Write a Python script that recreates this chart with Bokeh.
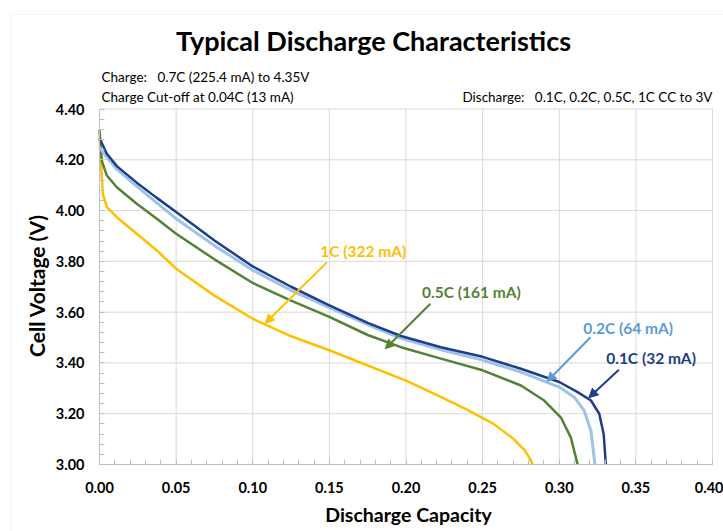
import math
from bokeh.plotting import figure
from bokeh.models import (Range1d, FixedTicker, NumeralTickFormatter, Label,
                          Arrow, NormalHead, ColumnDataSource, BoxAnnotation)
from bokeh.embed import file_html
from bokeh.resources import INLINE

# ---- data ----
cap_01 = [0.0, 0.0048, 0.0113, 0.0243, 0.0374, 0.05, 0.075, 0.10, 0.125, 0.15,
          0.175, 0.1967, 0.2228, 0.25, 0.275, 0.30, 0.312, 0.3207, 0.3261,
          0.329, 0.3304]
volt_01 = [4.285, 4.224, 4.175, 4.11, 4.05, 3.994, 3.882, 3.78, 3.70, 3.627,
           3.558, 3.506, 3.462, 3.424, 3.377, 3.325, 3.285, 3.252, 3.20,
           3.119, 3.00]

cap_02 = [0.0, 0.0048, 0.0113, 0.0243, 0.0374, 0.05, 0.075, 0.10, 0.125, 0.15,
          0.175, 0.1967, 0.2228, 0.25, 0.275, 0.30, 0.3098, 0.3163, 0.3207,
          0.3233]
volt_02 = [4.25, 4.21, 4.163, 4.095, 4.03, 3.968, 3.862, 3.765, 3.686, 3.618,
           3.551, 3.497, 3.452, 3.411, 3.364, 3.305, 3.265, 3.212, 3.132,
           3.00]

cap_05 = [0.0, 0.0015, 0.0048, 0.0113, 0.0243, 0.0374, 0.05, 0.075, 0.10, 0.125,
          0.15, 0.175, 0.1967, 0.2228, 0.25, 0.275, 0.2902, 0.3011, 0.3076,
          0.312]
volt_05 = [4.317, 4.197, 4.138, 4.092, 4.027, 3.968, 3.909, 3.808, 3.715, 3.645,
           3.581, 3.51, 3.462, 3.417, 3.371, 3.311, 3.252, 3.185, 3.106,
           3.00]

cap_1 = [0.0, 0.0013, 0.0022, 0.0048, 0.0113, 0.0243, 0.0374, 0.05, 0.075, 0.10,
         0.125, 0.15, 0.175, 0.20, 0.2224, 0.2398, 0.2572, 0.2703, 0.2772,
         0.2812, 0.2827]
volt_1 = [4.285, 4.158, 4.066, 4.014, 3.974, 3.909, 3.843, 3.771, 3.665, 3.574,
          3.505, 3.45, 3.39, 3.33, 3.267, 3.216, 3.16, 3.10, 3.058,
          3.02, 3.00]

x_ticks = [0.0, 0.05, 0.10, 0.15, 0.20, 0.25, 0.30, 0.35, 0.40]
y_ticks = [3.0, 3.2, 3.4, 3.6, 3.8, 4.0, 4.2, 4.4]
x_minor = [round(i * 0.01, 2) for i in range(41)]
y_minor = [round(3.0 + i * 0.04, 2) for i in range(36)]

series_names = ["0.1C (32 mA)", "0.2C (64 mA)", "0.5C (161 mA)", "1C (322 mA)"]
line_colors = ["#203C8C", "#9DC3E6", "#548235", "#FFC000"]
label_colors = ["#203C8C", "#5B9BD5", "#548235", "#FFC000"]

title_text = "Typical Discharge Characteristics"
x_title = "Discharge Capacity"
y_title = "Cell Voltage (V)"
note_charge_a = "Charge:"
note_charge_b = "0.7C (225.4 mA) to 4.35V"
note_cutoff = "Charge Cut-off at 0.04C (13 mA)"
note_discharge_a = "Discharge:"
note_discharge_b = "0.1C, 0.2C, 0.5C, 1C CC to 3V"

FONT = "Lato"
X_MIN, X_MAX, Y_MIN, Y_MAX = 0.0, 0.4, 3.0, 4.4

# The frame fills the whole canvas; axes are pinned at x=0 / y=3.0 so that
# titles and notes (drawn as labels) are not clipped.
W, H = 723, 531
LEFT_PX, BOTTOM_PX = 99, 464          # pixel position of x=0 and y=3.0
PX_PER_X = (712 - LEFT_PX) / (X_MAX - X_MIN)
PX_PER_Y = (BOTTOM_PX - 108.5) / (Y_MAX - Y_MIN)


def dx(px):
    return X_MIN + (px - LEFT_PX) / PX_PER_X


def dy(py):
    return Y_MIN + (BOTTOM_PX - py) / PX_PER_Y


p = figure(width=W, height=H, output_backend="svg", toolbar_location=None,
           x_range=Range1d(dx(0), dx(W)), y_range=Range1d(dy(H), dy(0)),
           min_border_left=0, min_border_right=0, min_border_top=0,
           min_border_bottom=0)
p.outline_line_color = None
p.background_fill_color = "white"
p.border_fill_color = "white"
p.grid.visible = False

p.xaxis.ticker = FixedTicker(ticks=x_ticks, minor_ticks=x_minor)
p.yaxis.ticker = FixedTicker(ticks=y_ticks, minor_ticks=y_minor)
p.xaxis.formatter = NumeralTickFormatter(format="0.00")
p.yaxis.formatter = NumeralTickFormatter(format="0.00")
p.xaxis.bounds = (X_MIN, X_MAX)
p.yaxis.bounds = (Y_MIN, Y_MAX)
p.xaxis.fixed_location = Y_MIN
p.yaxis.fixed_location = X_MIN
for ax in (p.xaxis, p.yaxis):
    ax.axis_line_color = "#BFBFBF"
    ax.major_tick_line_color = "#BFBFBF"
    ax.minor_tick_line_color = "#BFBFBF"
    ax.major_tick_in = 5
    ax.major_tick_out = 0
    ax.minor_tick_in = 5
    ax.minor_tick_out = 0
    ax.major_label_text_font = FONT
    ax.major_label_text_font_style = "bold"
    ax.major_label_text_font_size = "14.5px"
    ax.major_label_text_color = "black"
p.xaxis.major_label_standoff = 17
p.yaxis.major_label_standoff = 15

# grid lines, from the tick arrays, limited to the plot area
p.segment(x0=x_ticks, y0=[Y_MIN] * len(x_ticks), x1=x_ticks, y1=[Y_MAX] * len(x_ticks),
          line_color="#D9D9D9", line_width=1)
p.segment(x0=[X_MIN] * len(y_ticks), y0=y_ticks, x1=[X_MAX] * len(y_ticks), y1=y_ticks,
          line_color="#D9D9D9", line_width=1)

caps = [cap_01, cap_02, cap_05, cap_1]
volts = [volt_01, volt_02, volt_05, volt_1]
widths = [2.5, 3, 2.5, 2.5]
for i in [3, 2, 1, 0]:
    src = ColumnDataSource(dict(x=caps[i], y=volts[i]))
    p.line("x", "y", source=src, line_color=line_colors[i], line_width=widths[i])

# chart-area border (top and left edges, the others fall outside the window)
p.add_layout(BoxAnnotation(left=dx(10), top=dy(14), right=dx(W + 20), bottom=dy(H + 20),
                           fill_color=None, line_color="#D9D9D9", line_width=1))

# ---- callouts ----
ann_text_pos = [(0.3599, 3.421), (0.3449, 3.539), (0.2427, 3.681), (0.1721, 3.840)]
ann_arrows = [((0.3389, 3.373), (0.3193, 3.263)),
              ((0.3204, 3.501), (0.2921, 3.327)),
              ((0.2159, 3.633), (0.1865, 3.456)),
              ((0.1484, 3.796), (0.1081, 3.556))]
for i in range(4):
    tx, ty = ann_text_pos[i]
    p.add_layout(Label(x=tx, y=ty, text=series_names[i], text_align="center",
                       text_baseline="middle", text_font=FONT, text_font_style="bold",
                       text_font_size="15.5px", text_color=label_colors[i]))
    (x0, y0), (x1, y1) = ann_arrows[i]
    c = label_colors[i]
    p.add_layout(Arrow(x_start=x0, y_start=y0, x_end=x1, y_end=y1,
                       line_color=c, line_width=2,
                       end=NormalHead(size=9, fill_color=c, line_color=c)))


def text(x, y, s, size, align="left", bold=False, angle=0.0):
    p.add_layout(Label(x=x, y=y, text=s, text_align=align, text_baseline="middle",
                       text_font=FONT, text_font_style="bold" if bold else "normal",
                       text_font_size=size, text_color="black", angle=angle))


# ---- titles and notes ----
text(dx(373), dy(40), title_text, "27px", align="center", bold=True)
text(dx(101), dy(76.5), note_charge_a, "13.5px")
text(dx(157), dy(76.5), note_charge_b, "13.5px")
text(dx(101), dy(96), note_cutoff, "13.5px")
text(dx(524), dy(96), note_discharge_a, "13.5px", align="right")
text(dx(712), dy(96), note_discharge_b, "13.5px", align="right")
text(dx(408), dy(514), x_title, "19.5px", align="center", bold=True)
text(dx(36), dy(285), y_title, "21px", align="center", bold=True, angle=math.pi / 2)

open("out.html", "w").write(file_html(p, INLINE))
